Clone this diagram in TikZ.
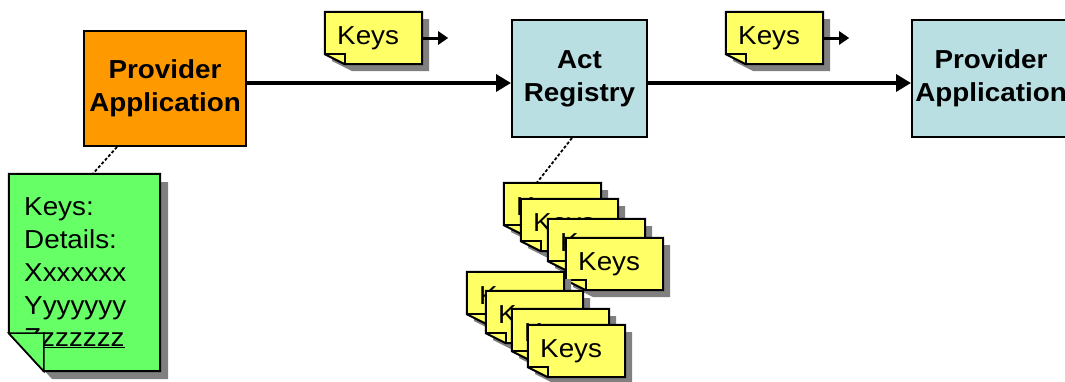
\documentclass[tikz,border=0pt]{standalone}
\usepackage{fontspec}
\setmainfont[FakeStretch=1.07]{Liberation Sans}
\usetikzlibrary{arrows.meta}
\definecolor{orangeA}{HTML}{FF9900}
\definecolor{blueA}{HTML}{B9DFE3}
\definecolor{yellowA}{HTML}{FFFF66}
\definecolor{greenA}{HTML}{66FF66}
\definecolor{shadowgray}{HTML}{808080}
\tikzset{
  box/.style={draw=black, line width=2pt, inner sep=0pt, align=center,
    font=\bfseries\fontsize{26}{33}\selectfont},
  mainarrow/.style={line width=3.5pt, -{Triangle[length=15pt,width=17pt]}},
  smallarrow/.style={line width=3pt, -{Triangle[length=10pt,width=13pt]}},
  notetext/.style={anchor=base west, inner sep=0pt, font=\fontsize{26}{26}\selectfont},
  dashlink/.style={line width=1.8pt, dash pattern=on 3pt off 2pt},
  noteedge/.style={line width=2pt, line join=miter},
}
\newcommand\knote[4]{%
  \fill[shadowgray] ({#2+7},{#3+7}) -- ({#2+104},{#3+7}) -- ({#2+104},{#3+59}) -- ({#2+27},{#3+59}) -- ({#2+7},{#3+49}) -- cycle;
  \node[minimum width=97pt, minimum height=52pt, inner sep=0pt] (#1) at ({#2+48.5},{#3+26}) {};
  \filldraw[fill=yellowA, noteedge] (#1.north west) -- (#1.north east) -- (#1.south east) -- ([xshift=20pt]#1.south west) -- ([yshift=10pt]#1.south west) -- cycle;
  \draw[line width=1.5pt] ([yshift=10pt]#1.south west) -- ([xshift=20pt,yshift=10pt]#1.south west) -- ([xshift=20pt]#1.south west);
  \node[notetext] (#1t) at ({#2+12},{#3+32}) {#4};
}
\begin{document}
\begin{tikzpicture}[x=1pt,y=-1pt]
\clip (0,0) rectangle (1065,381);
\useasboundingbox (0,0) rectangle (1065,381);

% main boxes
\node[box, fill=orangeA, minimum width=162pt, minimum height=115pt] (prov) at (165,88.5) {Provider\\Application};
\node[box, fill=blueA, minimum width=135pt, minimum height=117pt] (act) at (579.5,78.5) {Act\\Registry};
\node[box, fill=blueA, minimum width=158pt, minimum height=117pt] (prov2) at (991,78.5) {Provider\\Application};

% main arrows
\coordinate (ain) at ([yshift=-4.5pt]act.west);
\coordinate (bin) at ([yshift=-4.5pt]prov2.west);
\draw[mainarrow] (ain -| prov.east) -- (ain);
\draw[mainarrow] (bin -| act.east) -- (bin);

% keys notes on arrows
\knote{ka}{325}{12}{Keys}
\knote{kb}{726}{12}{Keys}
\coordinate (kaend) at ([xshift=26pt]ka.east);
\coordinate (kbend) at ([xshift=26pt]kb.east);
\draw[smallarrow] (ka.east) -- (kaend);
\draw[smallarrow] (kb.east) -- (kbend);

% green note
\fill[shadowgray] (17,182) -- (168,182) -- (168,379) -- (52,379) -- (17,341) -- cycle;
\node[minimum width=151pt, minimum height=197pt, inner sep=0pt] (green) at (84.5,272.5) {};
\filldraw[fill=greenA, noteedge] (green.north west) -- (green.north east) -- (green.south east) -- ([xshift=35pt]green.south west) -- ([yshift=38pt]green.south west) -- cycle;
\node[notetext] (g1) at (24,215) {Keys:};
\node[notetext] (g2) at (24,248) {Details:};
\node[notetext] (g3) at (24,281) {Xxxxxxx};
\node[notetext] (g4) at (24,314) {Yyyyyyy};
\node[notetext] (g5) at (24,346) {\underline{Zzzzzzz}};
\filldraw[fill=greenA, line width=1.5pt] ([yshift=38pt]green.south west) -- ([xshift=35pt,yshift=38pt]green.south west) -- ([xshift=35pt]green.south west) -- cycle;

% dashed links
\draw[dashlink] ([xshift=34pt]prov.south west) -- ([xshift=84pt]green.north west);

% stacks
\knote{u1}{504}{183}{Keys}
\knote{u2}{521}{199}{Keys}
\knote{u3}{548}{219}{Keys}
\knote{u4}{566}{238}{Keys}
\knote{l1}{467}{272}{Keys}
\knote{l2}{486}{291}{Keys}
\knote{l3}{512}{309}{Keys}
\knote{l4}{528}{325}{Keys}
\draw[dashlink] ([xshift=61pt]act.south west) -- ([xshift=33pt]u1.north west);
\end{tikzpicture}
\end{document}
